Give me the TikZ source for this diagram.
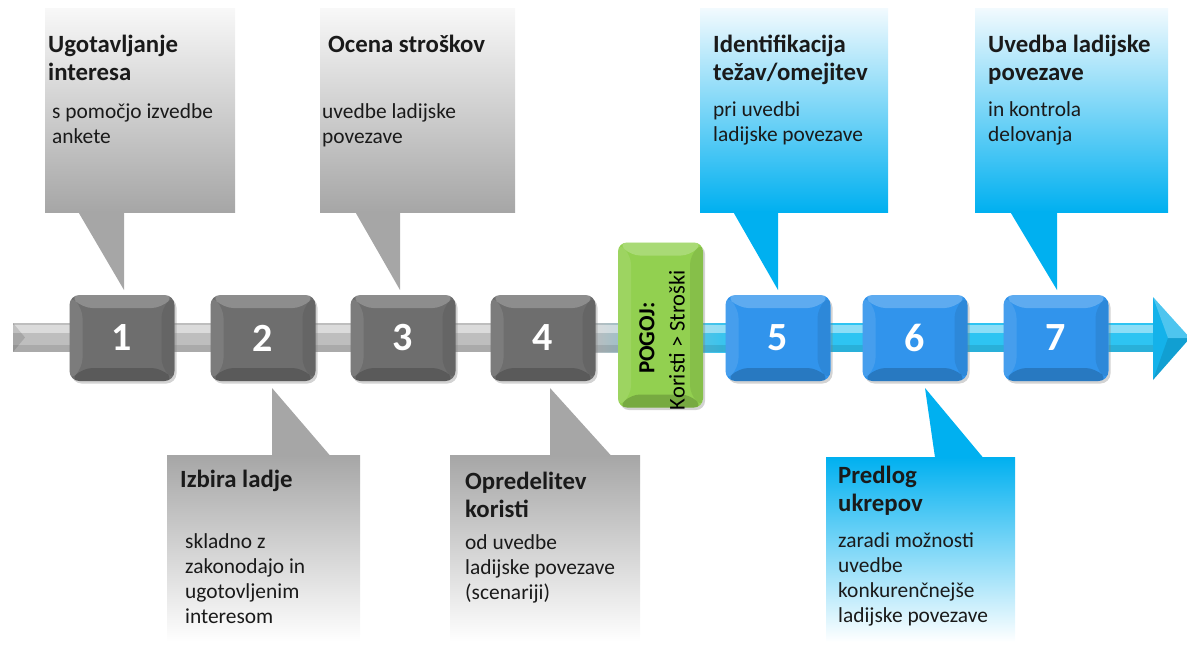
\documentclass[tikz,border=0pt]{standalone}
\usepackage{fontspec}
\setmainfont{Carlito}
\usetikzlibrary{shadows}

\definecolor{txt}{HTML}{1A1A1A}
\definecolor{callgray}{HTML}{A6A6A6}
\definecolor{callgraytop}{HTML}{F8F8F8}
\definecolor{callblue}{HTML}{00B0F0}
\definecolor{callbluetop}{HTML}{F2FAFE}
\definecolor{stepgray}{HTML}{6E6E6E}
\definecolor{stepblue}{HTML}{3194EC}
\definecolor{condgreen}{HTML}{92D050}
\definecolor{shaftgray}{HTML}{BEBEBE}
\definecolor{shaftcyan}{HTML}{2EC4F2}
\definecolor{headcyan}{HTML}{14B2EA}

\tikzset{
  % multi-line nodes are placed by the baseline of their last line
  headtext/.style={anchor=base west, align=left, inner sep=0pt, text=txt,
    font=\fontsize{24.8}{28}\selectfont\bfseries},
  bodytext/.style={anchor=base west, align=left, inner sep=0pt, text=txt,
    font=\fontsize{21.4}{25}\selectfont},
  bevelbox/.style={rounded corners=10pt, minimum width=105pt, minimum height=86pt,
    inner sep=0pt, text=white, font=\fontsize{40}{42}\selectfont\bfseries,
    drop shadow={opacity=0.35, shadow xshift=2pt, shadow yshift=-2.5pt},
    path picture={
      \coordinate (nw) at (path picture bounding box.north west);
      \coordinate (ne) at (path picture bounding box.north east);
      \coordinate (sw) at (path picture bounding box.south west);
      \coordinate (se) at (path picture bounding box.south east);
      \fill[white, opacity=0.22] (nw) -- (ne) -- ([shift={(-13,13)}]ne) -- ([shift={(13,13)}]nw) -- cycle;
      \fill[white, opacity=0.10] (nw) -- (sw) -- ([shift={(13,-13)}]sw) -- ([shift={(13,13)}]nw) -- cycle;
      \fill[black, opacity=0.18] (sw) -- (se) -- ([shift={(-13,-13)}]se) -- ([shift={(13,-13)}]sw) -- cycle;
      \fill[black, opacity=0.08] (ne) -- (se) -- ([shift={(-13,-13)}]se) -- ([shift={(-13,13)}]ne) -- cycle;
    }},
  graystep/.style={bevelbox, fill=stepgray},
  bluestep/.style={bevelbox, fill=stepblue},
  condbox/.style={bevelbox, fill=condgreen, minimum width=85pt, minimum height=165pt,
    rounded corners=9pt, text=black},
  condtext/.style={rotate=90, inner sep=0pt, text=black},
}

\begin{document}
\begin{tikzpicture}[x=1pt, y=-1pt]
\useasboundingbox (0,0) rectangle (1187,646);

% ---- timeline shaft ----
\fill[shaftgray] (13,323) rectangle (592,352);
\fill[left color=shaftgray, right color=shaftcyan] (590,323) rectangle (735,352);
\fill[shaftcyan] (733,323) rectangle (1155,352);
\fill[white, opacity=0.45] (13,325) rectangle (1155,333);
\fill[black, opacity=0.10] (13,345) rectangle (1155,352);
\fill[black, opacity=0.12] (13,323) -- (25,337.5) -- (13,352) -- cycle;
% arrow head
\fill[headcyan] (1153,297) -- (1190,338) -- (1153,380) -- cycle;
\fill[white, opacity=0.25] (1153,297) -- (1190,338) -- (1168,338) -- cycle;
\fill[black, opacity=0.10] (1153,380) -- (1190,338) -- (1168,338) -- cycle;

% ---- upper callouts ----
\fill[top color=callgraytop, bottom color=callgray] (45,8) rectangle (235,212);
\fill[callgray] (78,211.5) -- (124,211.5) -- (124,290) -- cycle;
\fill[top color=callgraytop, bottom color=callgray] (320,8) rectangle (515,212);
\fill[callgray] (355,211.5) -- (400,211.5) -- (400,290) -- cycle;
\fill[top color=callbluetop, bottom color=callblue] (700,8) rectangle (888,212);
\fill[callblue] (733,211.5) -- (778,211.5) -- (778,290) -- cycle;
\fill[top color=callbluetop, bottom color=callblue] (975,8) rectangle (1168,212);
\fill[callblue] (1010,211.5) -- (1057,211.5) -- (1057,290) -- cycle;

% ---- lower callouts ----
\fill[top color=callgray, bottom color=white] (167,455) rectangle (360,642);
\fill[callgray] (272,388) -- (272,455.5) -- (330,455.5) -- cycle;
\fill[top color=callgray, bottom color=white] (450,455) rectangle (640,642);
\fill[callgray] (550,388) -- (550,455.5) -- (611,455.5) -- cycle;
\fill[top color=callblue, bottom color=white] (826,457) rectangle (1015,642);
\fill[callblue] (925,388) -- (935,457.5) -- (983,457.5) -- cycle;

% ---- steps ----
\node[graystep] (s1) at (122,338) {1};
\node[graystep] (s2) at (263,338) {2};
\node[graystep] (s3) at (403,338) {3};
\node[graystep] (s4) at (543,338) {4};
\node[condbox] (cond) at (660.5,325) {};
\node[condtext, font=\fontsize{23}{24}\selectfont\bfseries] (condhead) at (647,338) {POGOJ:};
\node[condtext, font=\fontsize{22.5}{24}\selectfont] (condbody) at (677,340) {Koristi > Stroški};
\node[bluestep] (s5) at (778,338) {5};
\node[bluestep] (s6) at (915,338) {6};
\node[bluestep] (s7) at (1056,338) {7};

% ---- callout texts ----
\node[headtext] (h1) at (48,80) {Ugotavljanje\\interesa};
\node[bodytext] (b1) at (52,143) {s pomočjo izvedbe\\ankete};
\node[headtext] (h3) at (328,52) {Ocena stroškov};
\node[bodytext] (b3) at (322,143) {uvedbe ladijske\\povezave};
\node[headtext] (h5) at (713,80) {Identifikacija\\težav/omejitev};
\node[bodytext] (b5) at (713,141) {pri uvedbi\\ladijske povezave};
\node[headtext] (h7) at (988,80) {Uvedba ladijske\\povezave};
\node[bodytext] (b7) at (988,141) {in kontrola\\delovanja};

\node[headtext] (h2) at (180,487) {Izbira ladje};
\node[bodytext] (b2) at (185,623) {skladno z\\zakonodajo in\\ugotovljenim\\interesom};
\node[headtext] (h4) at (465,517) {Opredelitev\\koristi};
\node[bodytext] (b4) at (465,599) {od uvedbe\\ladijske povezave\\(scenariji)};
\node[headtext] (h6) at (838,511) {Predlog\\ukrepov};
\node[bodytext] (b6) at (838,622) {zaradi možnosti\\uvedbe\\konkurenčnejše\\ladijske povezave};
\end{tikzpicture}
\end{document}
